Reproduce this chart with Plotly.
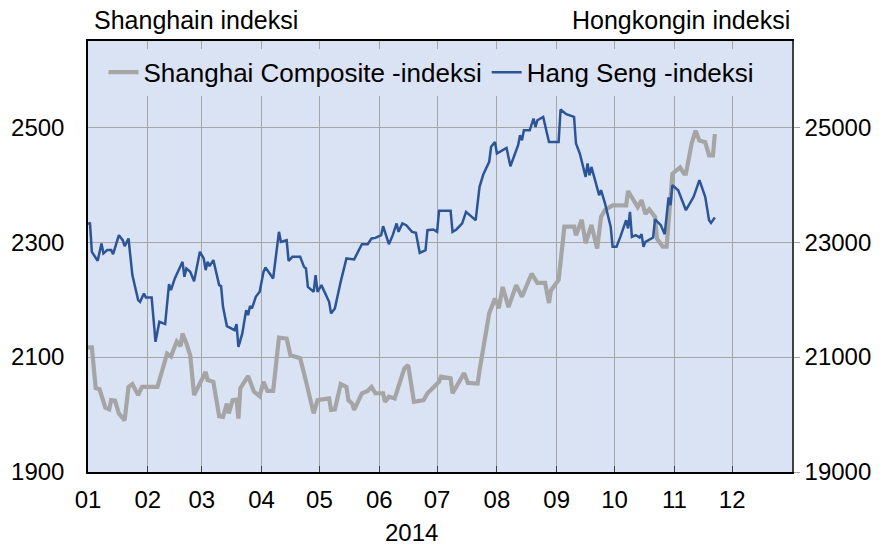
import plotly.graph_objects as go

# ---------------- data ----------------
sh_dates = ["2014-01-01","2014-01-03","2014-01-05","2014-01-07","2014-01-10","2014-01-12","2014-01-13","2014-01-15",
            "2014-01-17","2014-01-20","2014-01-22","2014-01-24","2014-01-27","2014-01-29","2014-02-06","2014-02-11",
            "2014-02-13","2014-02-16","2014-02-18","2014-02-19","2014-02-21","2014-02-23","2014-02-25","2014-03-03",
            "2014-03-04","2014-03-07","2014-03-10","2014-03-12","2014-03-14","2014-03-15","2014-03-17","2014-03-19",
            "2014-03-20","2014-03-21","2014-03-25","2014-03-28","2014-03-31","2014-04-02","2014-04-04","2014-04-07",
            "2014-04-10","2014-04-14","2014-04-16","2014-04-20","2014-04-21","2014-04-23","2014-04-25","2014-04-28",
            "2014-04-30","2014-05-06","2014-05-07","2014-05-09","2014-05-12","2014-05-15","2014-05-16","2014-05-18",
            "2014-05-19","2014-05-21","2014-05-23","2014-05-26","2014-05-28","2014-05-30","2014-06-03","2014-06-04",
            "2014-06-06","2014-06-09","2014-06-11","2014-06-14","2014-06-16","2014-06-19","2014-06-24","2014-06-26",
            "2014-07-02","2014-07-03","2014-07-08","2014-07-09","2014-07-15","2014-07-17","2014-07-22","2014-07-23",
            "2014-07-28","2014-07-29","2014-07-31","2014-08-02","2014-08-04","2014-08-07","2014-08-11","2014-08-14",
            "2014-08-19","2014-08-22","2014-08-26","2014-08-28","2014-08-29","2014-09-02","2014-09-05","2014-09-10",
            "2014-09-11","2014-09-14","2014-09-16","2014-09-19","2014-09-22","2014-09-24","2014-09-26","2014-09-30",
            "2014-10-07","2014-10-08","2014-10-11","2014-10-13","2014-10-15","2014-10-17","2014-10-19","2014-10-22",
            "2014-10-23","2014-10-26","2014-10-28","2014-10-31","2014-11-04","2014-11-06","2014-11-07","2014-11-10",
            "2014-11-12","2014-11-14","2014-11-17","2014-11-19","2014-11-21","2014-11-22"]
sh_values = [2117,2117,2046,2044,2012,2009,2025,2024,
             2002,1990,2048,2053,2034,2048,2048,2106,
             2101,2127,2119,2141,2124,2103,2034,2074,
             2060,2057,1997,1996,2019,2002,2025,2026,
             1993,2046,2067,2040,2032,2057,2041,2041,
             2134,2132,2103,2099,2098,2072,2043,2002,
             2025,2028,2008,2009,2053,2048,2025,2019,
             2008,2022,2037,2041,2048,2037,2037,2022,
             2031,2028,2051,2080,2086,2022,2025,2037,
             2057,2066,2063,2037,2072,2055,2054,2077,
             2176,2185,2202,2185,2222,2187,2225,2205,
             2245,2229,2229,2194,2216,2234,2327,2327,
             2312,2339,2298,2330,2289,2344,2356,2364,
             2364,2389,2370,2361,2373,2349,2357,2344,
             2306,2292,2292,2419,2430,2419,2419,2472,
             2494,2477,2474,2451,2451,2488]

hs_dates = ["2014-01-01","2014-01-02","2014-01-03","2014-01-06","2014-01-08","2014-01-09","2014-01-11","2014-01-13",
            "2014-01-14","2014-01-17","2014-01-19","2014-01-20","2014-01-22","2014-01-24","2014-01-27","2014-01-28",
            "2014-01-30","2014-01-31","2014-02-03","2014-02-05","2014-02-07","2014-02-10","2014-02-12","2014-02-13",
            "2014-02-15","2014-02-19","2014-02-20","2014-02-21","2014-02-23","2014-02-25","2014-02-28","2014-03-02",
            "2014-03-03","2014-03-04","2014-03-05","2014-03-07","2014-03-08","2014-03-10","2014-03-11","2014-03-12",
            "2014-03-14","2014-03-16","2014-03-18","2014-03-19","2014-03-20","2014-03-22","2014-03-24","2014-03-25",
            "2014-03-26","2014-03-27","2014-03-29","2014-03-31","2014-04-02","2014-04-03","2014-04-07","2014-04-10",
            "2014-04-11","2014-04-14","2014-04-15","2014-04-17","2014-04-21","2014-04-23","2014-04-24","2014-04-25",
            "2014-04-28","2014-04-29","2014-04-30","2014-05-02","2014-05-06","2014-05-07","2014-05-09","2014-05-12",
            "2014-05-15","2014-05-19","2014-05-21","2014-05-23","2014-05-26","2014-05-28","2014-05-30","2014-06-02",
            "2014-06-03","2014-06-06","2014-06-08","2014-06-10","2014-06-11","2014-06-13","2014-06-15","2014-06-18",
            "2014-06-20","2014-06-22","2014-06-25","2014-06-26","2014-06-29","2014-07-01","2014-07-02","2014-07-08",
            "2014-07-09","2014-07-11","2014-07-14","2014-07-16","2014-07-19","2014-07-21","2014-07-23","2014-07-25",
            "2014-07-28","2014-07-29","2014-07-31","2014-08-01","2014-08-06","2014-08-08","2014-08-12","2014-08-13",
            "2014-08-14","2014-08-15","2014-08-18","2014-08-20","2014-08-21","2014-08-22","2014-08-25","2014-08-28",
            "2014-09-02","2014-09-03","2014-09-06","2014-09-10","2014-09-11","2014-09-13","2014-09-16","2014-09-17",
            "2014-09-18","2014-09-19","2014-09-23","2014-09-24","2014-09-26","2014-09-29","2014-09-30","2014-10-02",
            "2014-10-04","2014-10-07","2014-10-08","2014-10-09","2014-10-10","2014-10-12","2014-10-14","2014-10-15",
            "2014-10-16","2014-10-17","2014-10-21","2014-10-22","2014-10-25","2014-10-27","2014-10-29","2014-10-30",
            "2014-10-31","2014-11-03","2014-11-07","2014-11-11","2014-11-14","2014-11-17","2014-11-19","2014-11-20",
            "2014-11-22"]
hs_values = [23310,23340,22831,22675,22977,22803,22861,22861,
             22791,23121,23034,22930,23064,22426,21991,21961,
             22107,22038,22038,21266,21614,21574,22269,22165,
             22368,22657,22396,22542,22483,22320,22831,22716,
             22513,22657,22582,22687,22542,22252,22235,21875,
             21539,21499,21469,21574,21179,21412,21817,21730,
             21887,21846,22049,22136,22483,22559,22368,23179,
             23005,23034,22675,22744,22744,22570,22542,22222,
             22136,22426,22136,22252,21962,21760,21847,22309,
             22716,22699,22831,22965,22965,23064,23074,23121,
             23278,22965,23121,23325,23179,23325,23295,23179,
             23162,22814,22861,23208,23220,23179,23544,23544,
             23179,23220,23325,23527,23440,23382,23962,24182,
             24397,24658,24744,24542,24640,24321,24687,24860,
             24773,24947,24947,25151,25005,25121,25179,24744,
             24744,25307,25226,25179,24716,24542,24135,24368,
             24165,24309,23817,23904,23680,23266,22918,22918,
             23092,23382,23238,23527,23092,23121,23081,23139,
             22918,23005,23081,23394,23295,23139,23777,23643,
             23991,23904,23556,23788,24078,23788,23382,23335,
             23429]

month_starts = ["2014-01-01","2014-02-01","2014-03-01","2014-04-01","2014-05-01","2014-06-01",
                "2014-07-01","2014-08-01","2014-09-01","2014-10-01","2014-11-01","2014-12-01","2015-01-01"]
month_labels = ["01","02","03","04","05","06","07","08","09","10","11","12",""]
left_ticks = [1900, 2100, 2300, 2500]
left_labels = ["1900", "2100", "2300", "2500"]
right_ticks = [19000, 21000, 23000, 25000]
right_labels = ["19000", "21000", "23000", "25000"]

name_sh = "Shanghai Composite -indeksi"
name_hs = "Hang Seng -indeksi"
title_left = "Shanghain indeksi"
title_right = "Hongkongin indeksi"
year_label = "2014"

# ---------------- figure ----------------
FONT = "Liberation Sans, Arial, sans-serif"
BG = "#dae3f3"
GRID = "#a6a6a6"

fig = go.Figure()
fig.add_trace(go.Scatter(x=sh_dates, y=sh_values, mode="lines", name=name_sh,
                         line=dict(color="#a5a5a5", width=4.2), yaxis="y"))
fig.add_trace(go.Scatter(x=hs_dates, y=hs_values, mode="lines", name=name_hs,
                         line=dict(color="#2b5597", width=2.5), yaxis="y2"))

fig.update_layout(
    width=884, height=549,
    margin=dict(l=88, r=92, t=41, b=77, autoexpand=False),
    paper_bgcolor="white",
    plot_bgcolor=BG,
    font=dict(family=FONT, size=24, color="black"),
    showlegend=True,
    legend=dict(orientation="h", x=0.022, y=0.982, xanchor="left", yanchor="top",
                bgcolor=BG, borderwidth=0, font=dict(size=26),
                itemwidth=30, tracegroupgap=0),
    xaxis=dict(type="date", range=["2014-01-01", "2015-01-01"],
               tickvals=month_starts, ticktext=month_labels,
               showgrid=True, gridcolor=GRID, gridwidth=1,
               showline=True, linecolor="black", linewidth=1.5, mirror=True,
               ticks="inside", ticklen=6, tickcolor="#404040",
               ticklabelstandoff=5, zeroline=False, automargin=False,
               tickfont=dict(size=24)),
    yaxis=dict(range=[1900, 2650], tickvals=left_ticks, ticktext=left_labels,
               showgrid=True, gridcolor=GRID, gridwidth=1,
               showline=True, linecolor="black", linewidth=1.5,
               ticks="", ticklabelstandoff=17, zeroline=False, automargin=False,
               tickfont=dict(size=24)),
    yaxis2=dict(range=[19000, 26500], tickvals=right_ticks, ticktext=right_labels,
                overlaying="y", side="right", showgrid=False,
                showline=True, linecolor="#404040", linewidth=1.5,
                ticks="outside", ticklen=6, tickcolor=GRID,
                zeroline=False, automargin=False, tickfont=dict(size=24)),
    annotations=[
        dict(text=title_left, xref="paper", yref="paper", x=0.005, y=1.049,
             xanchor="left", yanchor="middle", showarrow=False, font=dict(size=25)),
        dict(text=title_right, xref="paper", yref="paper", x=1.0, y=1.049,
             xanchor="right", yanchor="middle", showarrow=False, font=dict(size=25)),
        dict(text=year_label, xref="paper", yref="paper", x=0.459, y=-0.1415,
             xanchor="center", yanchor="middle", showarrow=False, font=dict(size=24)),
    ],
)

fig.write_html("out.html", config={"displayModeBar": False},
               post_script="document.body.style.margin='0';")
